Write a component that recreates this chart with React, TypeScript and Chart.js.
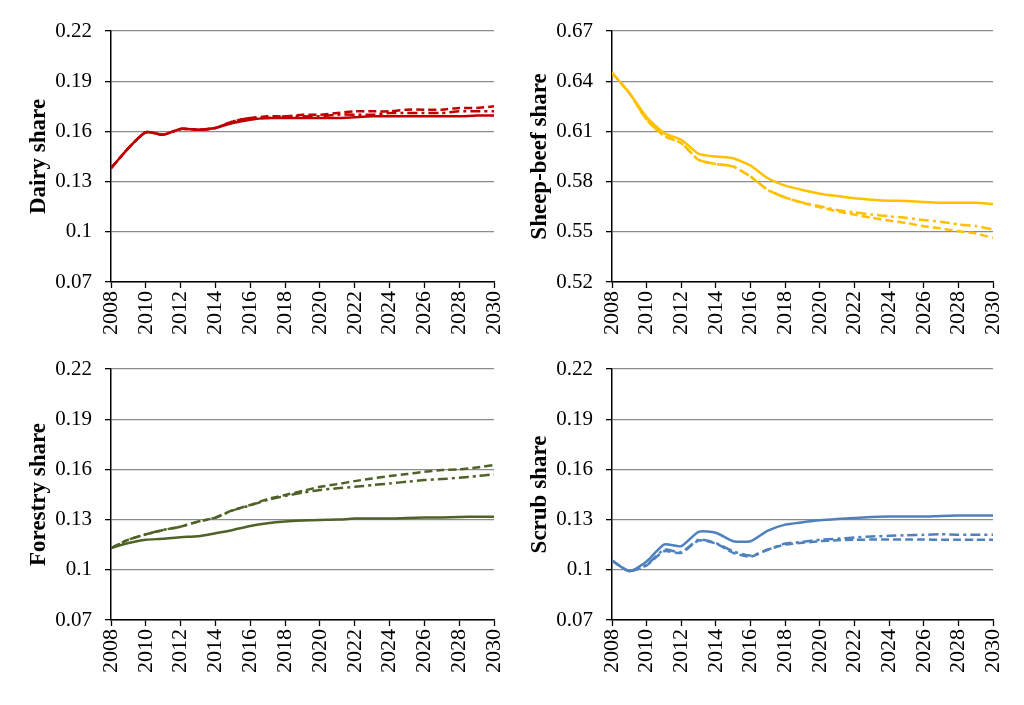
import React, { useEffect, useRef } from "react";
import { Chart, registerables } from "chart.js";

Chart.register(...registerables);

const YEARS = [2008, 2009, 2010, 2011, 2012, 2013, 2014, 2015, 2016, 2017, 2018, 2019, 2020, 2021, 2022, 2023, 2024, 2025, 2026, 2027, 2028, 2029, 2030];
const X_TICKS = [2008, 2010, 2012, 2014, 2016, 2018, 2020, 2022, 2024, 2026, 2028, 2030];
const SMALL_TICKS = [0.07, 0.1, 0.13, 0.16, 0.19, 0.22];
const SHEEP_TICKS = [0.52, 0.55, 0.58, 0.61, 0.64, 0.67];

const DAIRY_SOLID = [0.138, 0.150, 0.1595, 0.158, 0.1615, 0.161, 0.162, 0.165, 0.167, 0.168, 0.168, 0.168, 0.168, 0.168, 0.1685, 0.169, 0.169, 0.169, 0.169, 0.169, 0.169, 0.1695, 0.1695];
const DAIRY_DASH = [0.138, 0.150, 0.1595, 0.158, 0.1615, 0.161, 0.162, 0.166, 0.168, 0.169, 0.169, 0.170, 0.170, 0.171, 0.172, 0.172, 0.172, 0.173, 0.173, 0.173, 0.174, 0.174, 0.175];
const DAIRY_DASHDOT = [0.138, 0.150, 0.1595, 0.158, 0.1615, 0.161, 0.162, 0.166, 0.168, 0.168, 0.169, 0.169, 0.169, 0.170, 0.170, 0.170, 0.171, 0.171, 0.171, 0.171, 0.172, 0.172, 0.172];

const SHEEP_SOLID = [0.645, 0.633, 0.6185, 0.609, 0.605, 0.5966, 0.595, 0.594, 0.5895, 0.582, 0.5776, 0.575, 0.5728, 0.5714, 0.570, 0.5692, 0.5686, 0.5684, 0.5678, 0.5674, 0.5674, 0.5674, 0.5666];
const SHEEP_DASH = [0.645, 0.633, 0.617, 0.6074, 0.603, 0.593, 0.5905, 0.589, 0.583, 0.575, 0.5705, 0.5673, 0.5647, 0.5623, 0.5603, 0.5584, 0.5567, 0.5553, 0.5533, 0.552, 0.5503, 0.549, 0.5463];
const SHEEP_DASHDOT = [0.645, 0.633, 0.617, 0.6074, 0.603, 0.593, 0.5905, 0.589, 0.583, 0.575, 0.5705, 0.5675, 0.5653, 0.563, 0.5616, 0.5603, 0.5593, 0.5584, 0.557, 0.556, 0.5544, 0.5535, 0.5513];

const FOREST_SOLID = [0.113, 0.116, 0.118, 0.1185, 0.1195, 0.120, 0.1218, 0.1238, 0.1262, 0.1278, 0.1288, 0.1294, 0.1298, 0.130, 0.1306, 0.1306, 0.1306, 0.131, 0.1312, 0.1313, 0.1316, 0.1317, 0.1317];
const FOREST_DASH = [0.113, 0.118, 0.1212, 0.1238, 0.1258, 0.1288, 0.1312, 0.1357, 0.1387, 0.1423, 0.1447, 0.1471, 0.1496, 0.1512, 0.153, 0.1546, 0.156, 0.1572, 0.1586, 0.1596, 0.160, 0.1612, 0.1626];
const FOREST_DASHDOT = [0.113, 0.118, 0.1212, 0.1238, 0.1258, 0.1288, 0.1312, 0.1355, 0.1385, 0.1418, 0.1441, 0.1461, 0.1477, 0.1487, 0.1496, 0.1506, 0.1516, 0.1526, 0.1536, 0.1542, 0.155, 0.156, 0.157];

const SCRUB_SOLID = [0.1055, 0.0992, 0.105, 0.1151, 0.1141, 0.1227, 0.1221, 0.1171, 0.1171, 0.1234, 0.127, 0.1284, 0.1296, 0.1304, 0.131, 0.1316, 0.1318, 0.1318, 0.1318, 0.1322, 0.1324, 0.1324, 0.1324];
const SCRUB_DASH = [0.1055, 0.0992, 0.1026, 0.1111, 0.1101, 0.1175, 0.1157, 0.1101, 0.1078, 0.1121, 0.1151, 0.1161, 0.1171, 0.1177, 0.1179, 0.1181, 0.1181, 0.1181, 0.1181, 0.1179, 0.1179, 0.1179, 0.1179];
const SCRUB_DASHDOT = [0.1055, 0.0992, 0.103, 0.112, 0.1105, 0.118, 0.116, 0.111, 0.1085, 0.112, 0.1157, 0.1167, 0.118, 0.1185, 0.1193, 0.1199, 0.1203, 0.1207, 0.1209, 0.1213, 0.1209, 0.1209, 0.1209];

type PanelDef = {
  title: string;
  color: string;
  ticks: number[];
  solid: number[];
  dash: number[];
  dashdot: number[];
  left: number;
  top: number;
  width: number;
};

const PANELS: PanelDef[] = [
  { title: "Dairy share", color: "#C00000", ticks: SMALL_TICKS, solid: DAIRY_SOLID, dash: DAIRY_DASH, dashdot: DAIRY_DASHDOT, left: 0, top: 0, width: 512 },
  { title: "Sheep-beef share", color: "#FFC000", ticks: SHEEP_TICKS, solid: SHEEP_SOLID, dash: SHEEP_DASH, dashdot: SHEEP_DASHDOT, left: 501, top: 0, width: 510 },
  { title: "Forestry share", color: "#4F6228", ticks: SMALL_TICKS, solid: FOREST_SOLID, dash: FOREST_DASH, dashdot: FOREST_DASHDOT, left: 0, top: 338, width: 512 },
  { title: "Scrub share", color: "#4F81BD", ticks: SMALL_TICKS, solid: SCRUB_SOLID, dash: SCRUB_DASH, dashdot: SCRUB_DASHDOT, left: 501, top: 338, width: 510 },
];

const PANEL_HEIGHT = 352;
const SERIF = "'Liberation Serif', 'Times New Roman', serif";

function Panel({ def }: { def: PanelDef }) {
  const ref = useRef<HTMLCanvasElement | null>(null);
  useEffect(() => {
    if (!ref.current) return;
    const toPts = (arr: number[]) => YEARS.map((x, i) => ({ x, y: arr[i] }));
    const base = { borderColor: def.color, borderWidth: 2.5, pointRadius: 0, tension: 0.2, fill: false };
    const chart = new Chart(ref.current, {
      type: "line",
      data: {
        datasets: [
          { ...base, label: "dashdot", data: toPts(def.dashdot), borderDash: [10, 4, 3, 4] },
          { ...base, label: "dash", data: toPts(def.dash), borderDash: [8, 4] },
          { ...base, label: "solid", data: toPts(def.solid) },
        ],
      },
      options: {
        animation: false,
        responsive: false,
        layout: { padding: { top: 31, right: 18, bottom: 0, left: 0 } },
        plugins: { legend: { display: false }, tooltip: { enabled: false } },
        scales: {
          x: {
            type: "linear",
            min: 2008,
            max: 2030,
            afterBuildTicks: (s: any) => {
              s.ticks = X_TICKS.map((v) => ({ value: v }));
            },
            afterFit: (s: any) => {
              s.height = 70;
              s.paddingLeft = 0;
              s.paddingRight = 0;
            },
            ticks: {
              minRotation: 90,
              maxRotation: 90,
              autoSkip: false,
              padding: 3,
              color: "#000",
              font: { family: SERIF, size: 22 },
              callback: (v: any) => String(v),
            },
            grid: { drawOnChartArea: false, drawTicks: true, tickLength: 6, tickColor: "#000", tickWidth: 1.3 },
            border: { color: "#000", width: 1.5 },
          },
          y: {
            type: "linear",
            min: def.ticks[0],
            max: def.ticks[def.ticks.length - 1],
            afterBuildTicks: (s: any) => {
              s.ticks = def.ticks.map((v) => ({ value: v }));
            },
            afterFit: (s: any) => {
              s.width = 111;
              s.paddingTop = 0;
              s.paddingBottom = 0;
            },
            ticks: {
              padding: 13,
              color: "#000",
              font: { family: SERIF, size: 21 },
              callback: (v: any) => String(parseFloat(Number(v).toFixed(2))),
            },
            grid: { color: "#8C8C8C", lineWidth: 1.3, drawTicks: true, tickLength: 6, tickColor: "#000", tickWidth: 1.3 },
            border: { color: "#000", width: 1.5 },
            title: {
              display: true,
              text: def.title,
              color: "#000",
              font: { family: SERIF, size: 23, weight: "bold" },
              padding: { top: 25, bottom: 0 },
            },
          },
        },
      },
    } as any);
    return () => chart.destroy();
  }, [def]);
  return (
    <canvas
      ref={ref}
      width={def.width}
      height={PANEL_HEIGHT}
      style={{ position: "absolute", left: def.left, top: def.top, width: def.width, height: PANEL_HEIGHT }}
    />
  );
}

export default function App() {
  return (
    <div style={{ position: "absolute", left: 0, top: 0, width: 1024, height: 705, background: "#fff", overflow: "hidden" }}>
      {PANELS.map((p) => (
        <Panel key={p.title} def={p} />
      ))}
    </div>
  );
}
